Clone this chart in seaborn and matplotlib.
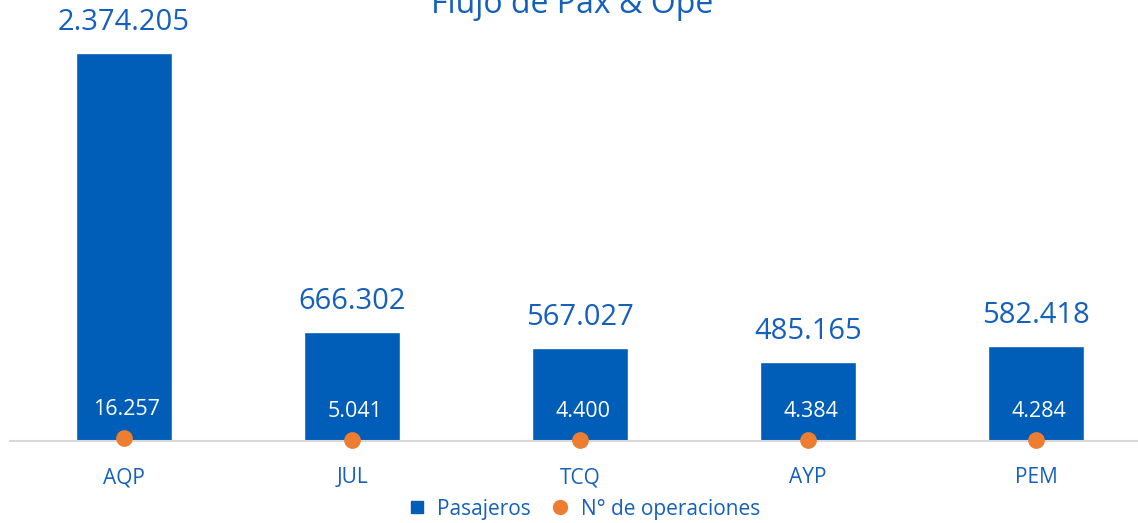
import matplotlib
matplotlib.use("Agg")
import matplotlib.pyplot as plt
import seaborn as sns
from matplotlib.lines import Line2D

# Datos
aeropuertos = ["AQP", "JUL", "TCQ", "AYP", "PEM"]
pasajeros = [2374205, 666302, 567027, 485165, 582418]
operaciones = [16257, 5041, 4400, 4384, 4284]

def fmt(v):
    return f"{v:,}".replace(",", ".")

azul = "#005EB8"
texto = "#1560BD"
naranja = "#ED7D31"

sns.set_style("white")
plt.rcParams["font.family"] = ["Open Sans", "DejaVu Sans"]

fig = plt.figure(figsize=(11.38, 5.23), dpi=100)
ax = fig.add_axes([10 / 1138, 1 - 441 / 523, 1140 / 1138, 408.6 / 523])

sns.barplot(x=aeropuertos, y=pasajeros, color=azul, saturation=1, width=0.42, ax=ax)
sns.pointplot(x=aeropuertos, y=operaciones, color=naranja, linestyle="none",
              markers="o", markersize=10, errorbar=None, ax=ax)
for ln in ax.lines:
    ln.set_clip_on(False)
    ln.set_zorder(5)

ax.set_ylim(0, 2500000)
ax.set_xlim(-0.5, 4.5)

# etiquetas de pasajeros sobre las barras
for i, v in enumerate(pasajeros):
    ax.annotate(fmt(v), (i, v), xytext=(0, 22), textcoords="offset points",
                ha="center", va="center", fontsize=21, color=texto)

# etiquetas de operaciones dentro de las barras
for i, v in enumerate(operaciones):
    ax.annotate(fmt(v), (i, v), xytext=(2, 21), textcoords="offset points",
                ha="center", va="center", fontsize=15.5, color="white")

for s in ["top", "right", "left"]:
    ax.spines[s].set_visible(False)
ax.spines["bottom"].set_color("#D9D9D9")
ax.spines["bottom"].set_linewidth(1.5)
ax.set_yticks([])
ax.set_xlabel("")
ax.set_ylabel("")
ax.tick_params(axis="x", length=0, pad=19, labelsize=15, labelcolor=texto)

fig.text(572 / 1138, 1 - 13 / 523, "Flujo de Pax & Ope", ha="center", va="baseline",
         fontsize=23, color=texto)

handles = [
    Line2D([], [], marker="s", linestyle="none", color=azul, markersize=9),
    Line2D([], [], marker="o", linestyle="none", color=naranja, markersize=10),
]
fig.legend(handles, ["Pasajeros", "N° de operaciones"], loc="center",
           bbox_to_anchor=(578 / 1138, 1 - 509 / 523), ncol=2, frameon=False,
           fontsize=15, labelcolor=texto, handletextpad=0.0, columnspacing=0.4)

fig.savefig("out.png", dpi=100)
